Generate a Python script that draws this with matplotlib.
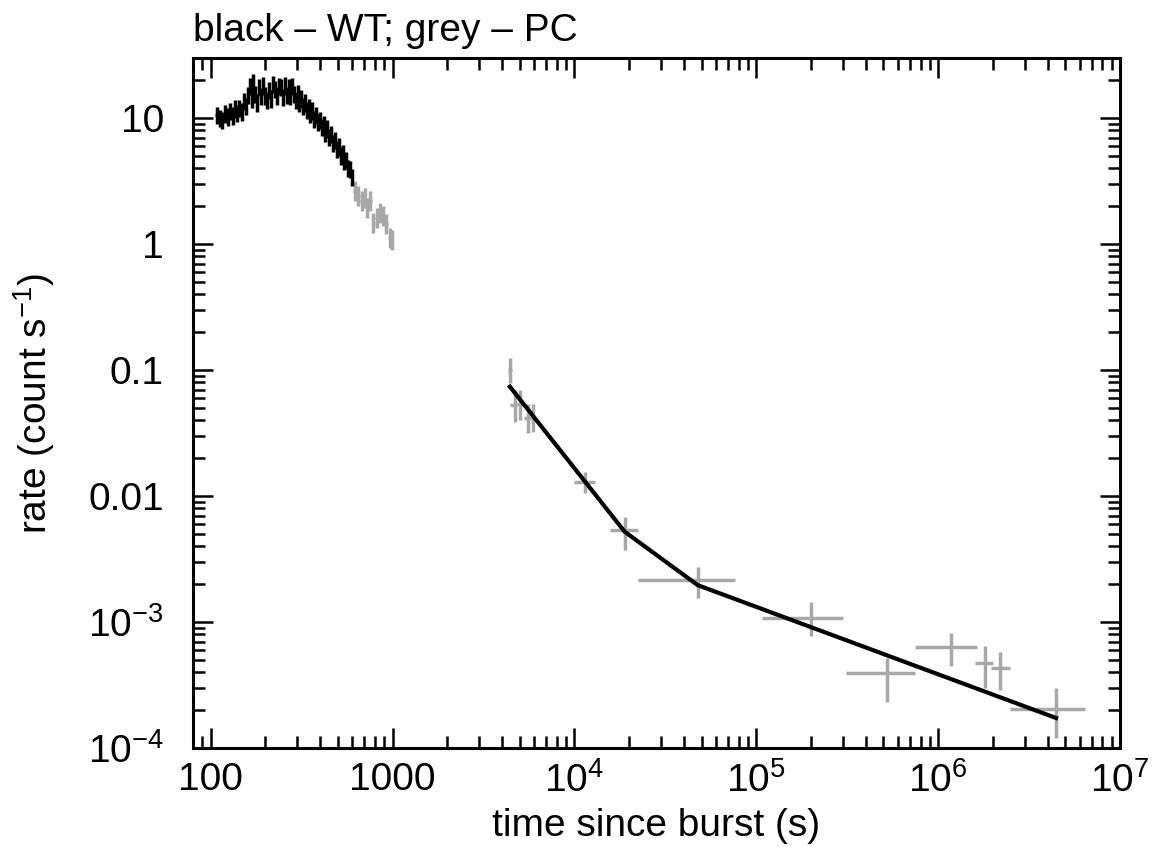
import numpy as np
import matplotlib
matplotlib.use("Agg")
import matplotlib.pyplot as plt
from matplotlib.ticker import LogLocator, FixedLocator, FixedFormatter, NullFormatter

plt.rcParams['font.family'] = ['Liberation Sans', 'DejaVu Sans']
plt.rcParams['mathtext.fontset'] = 'custom'
plt.rcParams['mathtext.rm'] = 'Liberation Sans'
plt.rcParams['mathtext.default'] = 'regular'

# ---- WT (black) light curve ----
wt_time = [108, 112, 116, 120, 124, 128, 132, 136, 140, 144, 148, 152, 156, 160,
           164, 168, 172, 176, 180, 185, 190, 195, 200, 205, 210, 215, 220, 226,
           232, 238, 244, 250, 256, 262, 268, 274, 280, 287, 294, 301, 308, 315,
           322, 330, 338, 346, 354, 362, 371, 380, 389, 398, 408, 418, 428, 438,
           449, 460, 471, 482, 494, 506, 518, 531, 544, 557, 571, 585, 600]
wt_rate = [10.5, 10.0, 9.6, 10.8, 10.2, 11.3, 10.4, 11.8, 10.9, 12.0, 11.2, 13.5,
           12.3, 15.2, 17.8, 14.0, 19.0, 15.5, 13.2, 17.5, 14.8, 18.0, 15.0, 13.8,
           16.5, 14.2, 18.5, 16.8, 15.0, 17.8, 17.5, 14.5, 18.0, 15.2, 17.5, 14.8,
           17.8, 15.5, 13.8, 15.8, 13.0, 14.2, 12.4, 13.2, 11.5, 12.2, 10.8, 11.4,
           9.8, 10.5, 9.2, 9.6, 8.4, 8.9, 7.6, 8.2, 7.0, 7.4, 6.3, 6.6, 5.6, 5.9,
           5.0, 5.2, 4.5, 4.6, 4.0, 3.9, 3.4]
wt_rel_err = 0.17

# ---- PC (grey) early light curve ----
pc1_time = [621, 648, 676, 705, 720, 751, 784, 817, 852, 881, 919, 967, 990]
pc1_rate = [2.64, 2.41, 2.20, 2.34, 1.95, 2.20, 1.48, 1.62, 1.78, 1.67, 1.44, 1.12, 1.08]
pc1_rel_err = 0.2

# ---- PC (grey) late light curve ----
pc2_time = [4420, 4700, 5010, 5540, 5900, 11400, 18900, 47700, 201000, 525000,
            1170000, 1800000, 2200000, 4450000]
pc2_tlo = [4330, 4450, 4860, 5300, 5800, 9980, 15600, 22300, 107000, 310000,
           742000, 1600000, 1950000, 2470000]
pc2_thi = [4520, 4860, 5150, 5800, 6150, 12900, 22300, 76000, 298000, 748000,
           1630000, 1990000, 2470000, 6450000]
pc2_rate = [0.100, 0.053, 0.054, 0.042, 0.042, 0.0129, 0.00536, 0.00215, 0.00107,
            3.94e-4, 6.34e-4, 4.73e-4, 4.31e-4, 2.05e-4]
pc2_rlo = [0.0794, 0.0389, 0.040, 0.0319, 0.0320, 0.0106, 0.00372, 0.00155, 0.00077,
           2.30e-4, 4.45e-4, 2.97e-4, 2.86e-4, 1.19e-4]
pc2_rhi = [0.1256, 0.0698, 0.070, 0.0534, 0.0534, 0.01556, 0.00683, 0.00273, 0.00144,
           5.15e-4, 8.18e-4, 6.43e-4, 5.78e-4, 2.97e-4]

# ---- broken power-law model ----
model_time = [4420, 18900, 47700, 4450000]
model_rate = [0.0738, 0.00521, 0.00196, 1.73e-4]

x_ticks = [100, 1000, 1e4, 1e5, 1e6, 1e7]
x_labels = ['100', '1000', '10$^4$', '10$^5$', '10$^6$', '10$^7$']
y_ticks = [1e-4, 1e-3, 0.01, 0.1, 1, 10]
y_labels = ['10$^{-4}$', '10$^{-3}$', '0.01', '0.1', '1', '10']

GREY = '#a8a8a8'
FS = 28

fig = plt.figure(figsize=(11.53, 8.47), dpi=100)
ax = fig.add_axes([0.1674, 0.1169, 0.8040, 0.8146])
ax.set_xscale('log')
ax.set_yscale('log')

def half_widths(t):
    t = np.asarray(t, float)
    edges = np.sqrt(t[1:] * t[:-1])
    lo = np.concatenate([[t[0] - (edges[0] - t[0])], edges])
    hi = np.concatenate([edges, [t[-1] + (t[-1] - edges[-1])]])
    return t - lo, hi - t

t = np.asarray(wt_time, float); r = np.asarray(wt_rate, float)
xl, xh = half_widths(wt_time)
ax.errorbar(t, r, xerr=[xl, xh], yerr=[r - r / (1 + wt_rel_err), r * wt_rel_err],
            fmt='none', ecolor='black', elinewidth=2.5, capsize=0, zorder=3)

t = np.asarray(pc1_time, float); r = np.asarray(pc1_rate, float)
xl, xh = half_widths(pc1_time)
ax.errorbar(t, r, xerr=[xl, xh], yerr=[r - r / (1 + pc1_rel_err), r * pc1_rel_err],
            fmt='none', ecolor=GREY, elinewidth=2.5, capsize=0, zorder=2)

t = np.asarray(pc2_time, float); r = np.asarray(pc2_rate, float)
ax.errorbar(t, r, xerr=[t - np.asarray(pc2_tlo), np.asarray(pc2_thi) - t],
            yerr=[r - np.asarray(pc2_rlo), np.asarray(pc2_rhi) - r],
            fmt='none', ecolor=GREY, elinewidth=2.5, capsize=0, zorder=2)

ax.plot(model_time, model_rate, color='black', lw=3.0, zorder=4)

ax.set_xlim(80, 1e7)
ax.set_ylim(1e-4, 30)

ax.xaxis.set_major_locator(FixedLocator(x_ticks))
ax.xaxis.set_major_formatter(FixedFormatter(x_labels))
ax.yaxis.set_major_locator(FixedLocator(y_ticks))
ax.yaxis.set_major_formatter(FixedFormatter(y_labels))
ax.xaxis.set_minor_locator(LogLocator(base=10, subs=np.arange(2, 10), numticks=20))
ax.yaxis.set_minor_locator(LogLocator(base=10, subs=np.arange(2, 10), numticks=20))
ax.xaxis.set_minor_formatter(NullFormatter())
ax.yaxis.set_minor_formatter(NullFormatter())

ax.tick_params(which='both', direction='in', top=True, right=True, width=1.8,
               labelsize=FS, colors='black')
ax.tick_params(which='major', length=14.5)
ax.tick_params(which='minor', length=8.5)
ax.tick_params(axis='x', which='major', pad=10)
ax.tick_params(axis='y', which='major', pad=21)
for s in ax.spines.values():
    s.set_linewidth(2.2)

ax.set_xlabel('time since burst (s)', fontsize=FS, labelpad=6)
ax.set_ylabel('rate (count s$^{-1}$)', fontsize=FS, labelpad=22)
ax.set_title('black \u2013 WT; grey \u2013 PC', fontsize=FS, loc='left', pad=12)

fig.savefig('out.png', dpi=100)
